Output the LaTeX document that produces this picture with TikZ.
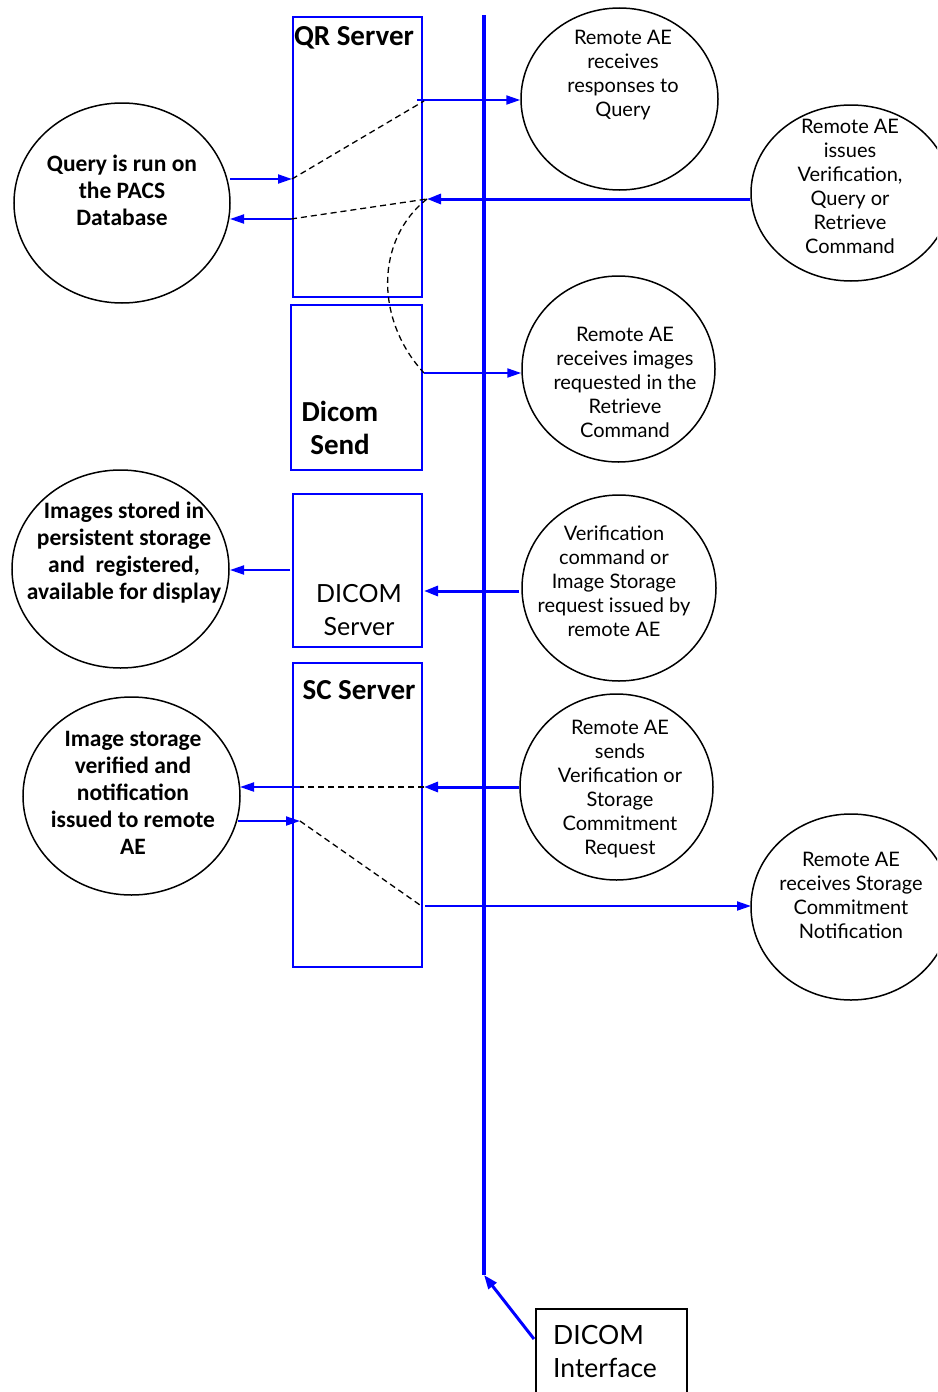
\documentclass[tikz,border=0pt]{standalone}
\usepackage{fontspec}
\setmainfont{Carlito}
\newfontfamily\gefont{Lato}
\usetikzlibrary{shapes.geometric,arrows.meta}
\definecolor{bl}{RGB}{0,0,255}
\tikzset{
  circ/.style={draw=black,line width=1.5pt,ellipse,inner sep=0pt},
  box/.style={draw=bl,line width=1.5pt,rectangle,inner sep=0pt},
  rtxt/.style={font=\gefont\fontsize{20}{24}\selectfont,align=center,inner sep=0pt},
  ltxt/.style={font=\bfseries\fontsize{23.5}{27}\selectfont,align=center,inner sep=0pt},
  btxt/.style={font=\bfseries\fontsize{29}{33}\selectfont,align=center,inner sep=0pt},
  gbtxt/.style={font=\gefont\fontsize{25}{33}\selectfont,align=center,inner sep=0pt},
  thin/.style={draw=bl,line width=2pt,-{Triangle[length=14pt,width=9pt]}},
  thick/.style={draw=bl,line width=3pt,-{Triangle[length=14pt,width=10pt]}},
  dsh/.style={draw=black,line width=1.3pt,dash pattern=on 6pt off 4pt},
}
\begin{document}
\begin{tikzpicture}[x=1pt,y=-1pt]
\clip (0,0) rectangle (937,1392);
\fill[white] (0,0) rectangle (937,1392);
% bus
\coordinate (bt) at (484,15);
\coordinate (bb) at (484,1275);
\draw[bl,line width=4pt] (bt) -- (bb);
% boxes
\node[box,minimum width=129pt,minimum height=280pt] (qr) at (357.5,157) {};
\node[box,minimum width=131pt,minimum height=165pt] (ds) at (356.5,387.5) {};
\node[box,minimum width=129pt,minimum height=153pt] (dsv) at (357.5,570.5) {};
\node[box,minimum width=129pt,minimum height=304pt] (sc) at (357.5,815) {};
\node[draw=black,line width=1.5pt,minimum width=151pt,minimum height=120pt,inner sep=0pt] (di) at (611.5,1369) {};
\node[btxt] at (354,38) {QR Server};
\node[btxt] at (340,427.5) {Dicom\\Send};
\node[gbtxt] at (359,610) {DICOM\\Server};
\node[btxt] at (359,690) {SC Server};
\node[gbtxt,font=\gefont\fontsize{26.5}{33}\selectfont,align=left,anchor=west] at (553,1351) {DICOM\\Interface};
% circles
\node[circ,minimum width=216pt,minimum height=200pt] (c1) at (122,203) {};
\node[ltxt] at (122,190) {Query is run on\\the PACS\\Database};
\node[circ,minimum width=217pt,minimum height=198pt] (c2) at (120.5,569) {};
\node[ltxt] at (124,553) {Images stored in\\persistent storage\\and\ \ registered,\\available for display};
\node[circ,minimum width=217pt,minimum height=198pt] (c3) at (131.5,796) {};
\node[ltxt] at (133,793) {Image storage\\verified and\\notification\\issued to remote\\AE};
\node[circ,minimum width=197pt,minimum height=182pt] (r1) at (619.5,99) {};
\node[rtxt] at (623,75.5) {Remote AE\\receives\\responses to\\Query};
\node[circ,minimum width=200pt,minimum height=176pt] (r2) at (851,193) {};
\node[rtxt] at (850,186.5) {Remote AE\\issues\\Verification,\\Query or\\Retrieve\\Command};
\node[circ,minimum width=193pt,minimum height=186pt] (r3) at (618.5,369) {};
\node[rtxt] at (625,382) {Remote AE\\receives images\\requested in the\\Retrieve\\Command};
\node[circ,minimum width=194pt,minimum height=186pt] (r4) at (619,588) {};
\node[rtxt] at (614,581) {Verification\\command or\\Image Storage\\request issued by\\remote AE};
\node[circ,minimum width=193pt,minimum height=186pt] (r5) at (616.5,787) {};
\node[rtxt] at (620,789) {Remote AE\\sends\\Verification or\\Storage\\Commitment\\Request};
\node[circ,minimum width=200pt,minimum height=186pt] (r6) at (851,907) {};
\node[rtxt] at (851,895.5) {Remote AE\\receives Storage\\Commitment\\Notification};
% coordinates
\coordinate (a1) at (417,100);
\coordinate (a2) at (424,101);
\coordinate (b1) at (750,199);
\coordinate (b2) at (427,199);
\coordinate (q1) at (230,179);
\coordinate (q2) at (292,179);
\coordinate (q3) at (291,219);
\coordinate (q4) at (230,219);
\coordinate (s1) at (424,373);
\coordinate (v1) at (290,570);
\coordinate (v2) at (230,570);
\coordinate (v3) at (519,591);
\coordinate (v4) at (424,591);
\coordinate (k1) at (519,787);
\coordinate (k2) at (424,787);
\coordinate (k3) at (300,787);
\coordinate (k4) at (240,787);
\coordinate (k5) at (238,821);
\coordinate (k6) at (300,821);
\coordinate (k7) at (420,905);
\coordinate (k8) at (425,906);
\coordinate (k9) at (751,906);
\coordinate (d0) at (534,1339);
% arrows
\draw[thin] (a1) -- (a1 -| r1.west);
\draw[thick] (b1) -- (b2);
\draw[thin] (q1) -- (q2);
\draw[thin] (q3) -- (q4);
\draw[dsh] (q2) -- (a2);
\draw[dsh] (q3) -- (b2);
\draw[dsh] (b2) .. controls (375,240) and (375,320) .. (s1);
\draw[thin] (s1) -- (s1 -| r3.west);
\draw[thin] (v1) -- (v2);
\draw[thick] (v3) -- (v4);
\draw[thick] (k1) -- (k2);
\draw[dsh] (k2) -- (k3);
\draw[thin] (k3) -- (k4);
\draw[thin] (k5) -- (k6);
\draw[dsh] (k6) -- (k7);
\draw[thin] (k8) -- (k9);
\draw[thick] (d0) -- (bb);
\end{tikzpicture}
\end{document}
